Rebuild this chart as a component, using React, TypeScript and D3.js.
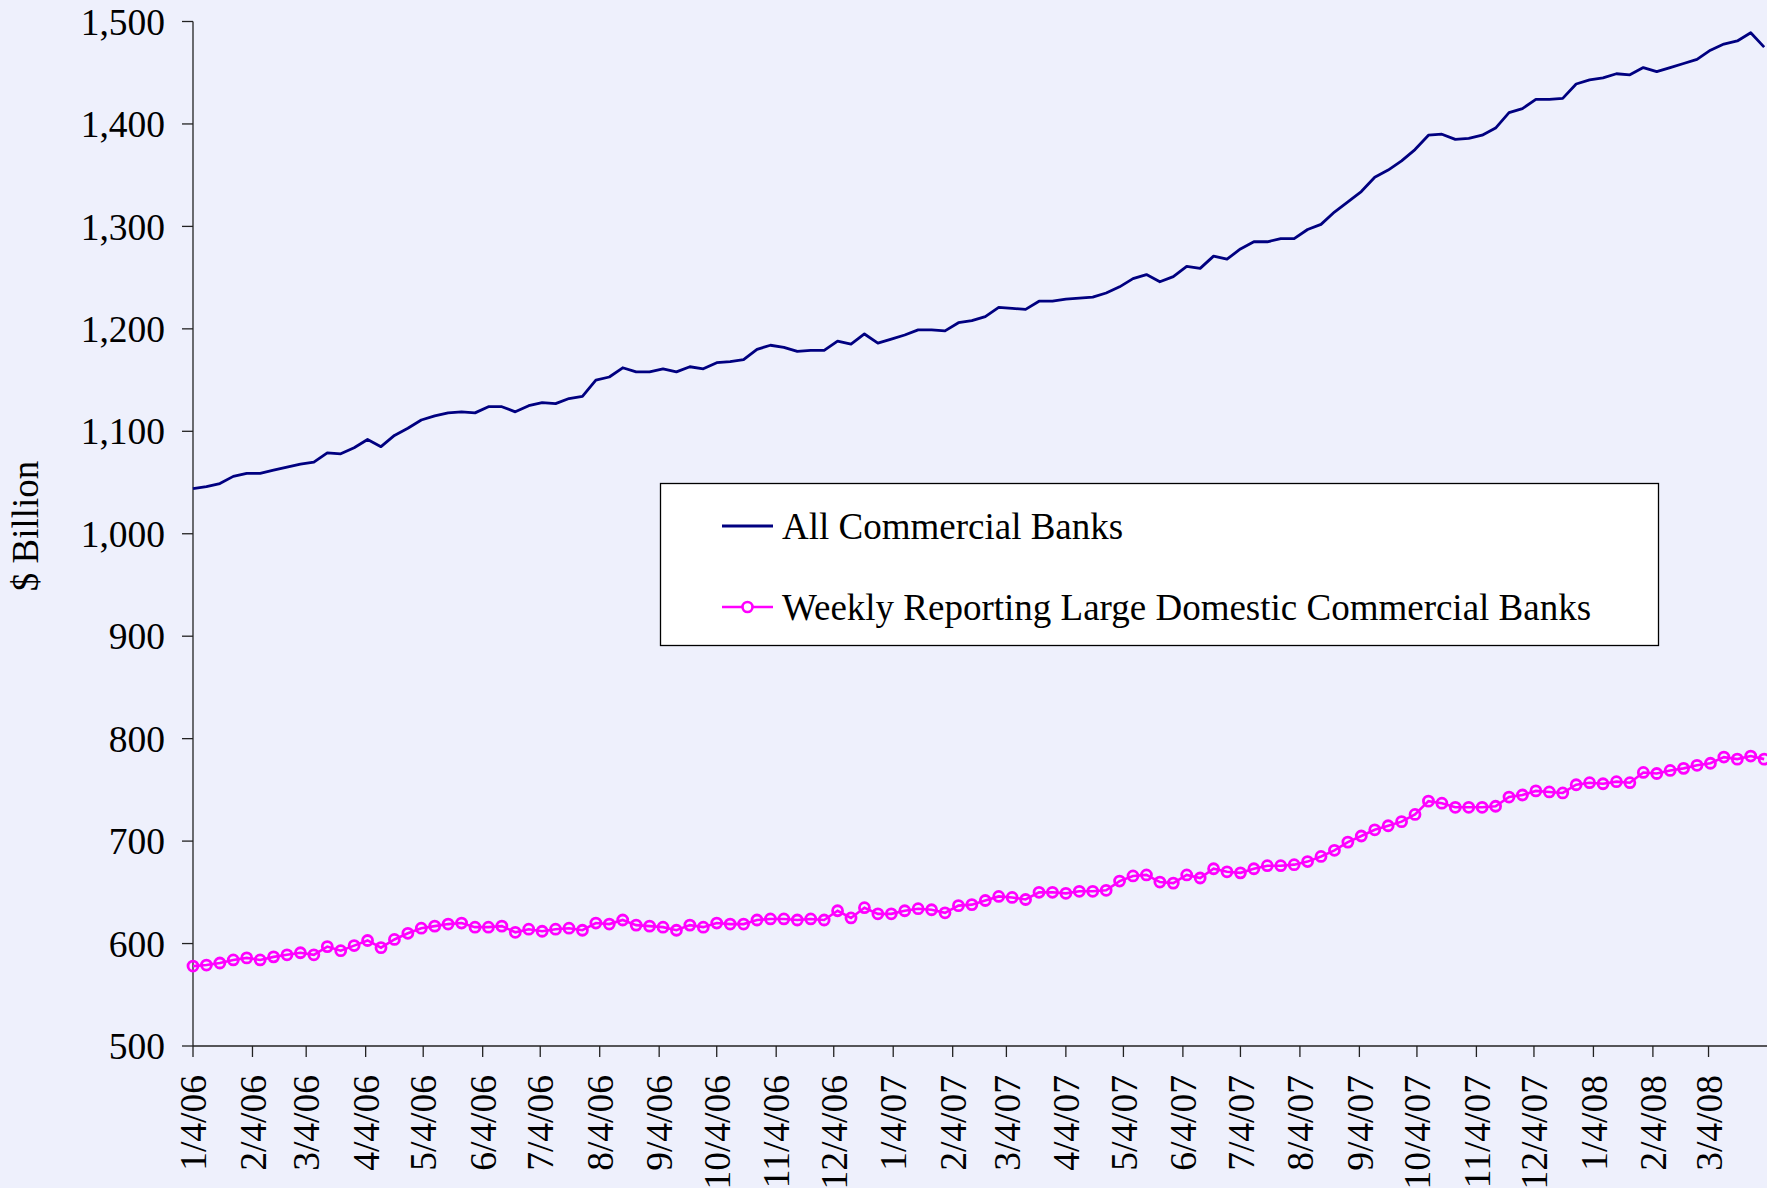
import React from "react";
import * as d3 from "d3";

const WIDTH = 1767;
const HEIGHT = 1188;

// weekly observations, starting Wed 1/4/06
const FIRST_WEEK = "1/4/06";
const LAST_DAY = "4/4/08";

const ALL_BANKS = [
  1044, 1046, 1049, 1056, 1059, 1059, 1062, 1065, 1068, 1070, 1079, 1078, 1084, 1092, 1085,
  1096, 1103, 1111, 1115, 1118, 1119, 1118, 1124, 1124, 1119, 1125, 1128, 1127, 1132, 1134,
  1150, 1153, 1162, 1158, 1158, 1161, 1158, 1163, 1161, 1167, 1168, 1170, 1180, 1184, 1182,
  1178, 1179, 1179, 1188, 1185, 1195, 1186, 1190, 1194, 1199, 1199, 1198, 1206, 1208, 1212,
  1221, 1220, 1219, 1227, 1227, 1229, 1230, 1231, 1235, 1241, 1249, 1253, 1246, 1251, 1261,
  1259, 1271, 1268, 1278, 1285, 1285, 1288, 1288, 1297, 1302, 1314, 1324, 1334, 1348, 1355,
  1364, 1375, 1389, 1390, 1385, 1386, 1389, 1396, 1411, 1415, 1424, 1424, 1425, 1439, 1443,
  1445, 1449, 1448, 1455, 1451, 1455, 1459, 1463, 1472, 1478, 1481, 1489, 1475,
];

const WEEKLY_LARGE = [
  578, 579, 581, 584, 586, 584, 587, 589, 591, 589, 597, 593, 598, 603, 596,
  604, 610, 615, 617, 619, 620, 616, 616, 617, 611, 614, 612, 614, 615, 613,
  620, 619, 623, 618, 617, 616, 613, 618, 616, 620, 619, 619, 623, 624, 624,
  623, 624, 623, 632, 625, 635, 629, 629, 632, 634, 633, 630, 637, 638, 642,
  646, 645, 643, 650, 650, 649, 651, 651, 652, 661, 666, 667, 660, 659, 667,
  664, 673, 670, 669, 673, 676, 676, 677, 680, 685, 691, 699, 705, 711, 715,
  719, 726, 739, 737, 733, 733, 733, 734, 743, 745, 749, 748, 747, 755, 757,
  756, 758, 757, 767, 766, 769, 771, 774, 776, 782, 780, 783, 780,
];

const TICK_LABELS = [
  "1/4/06", "2/4/06", "3/4/06", "4/4/06", "5/4/06", "6/4/06", "7/4/06", "8/4/06", "9/4/06",
  "10/4/06", "11/4/06", "12/4/06", "1/4/07", "2/4/07", "3/4/07", "4/4/07", "5/4/07", "6/4/07",
  "7/4/07", "8/4/07", "9/4/07", "10/4/07", "11/4/07", "12/4/07", "1/4/08", "2/4/08", "3/4/08",
];

const Y_TICKS = [500, 600, 700, 800, 900, 1000, 1100, 1200, 1300, 1400, 1500];

const SERIES_NAMES = ["All Commercial Banks", "Weekly Reporting Large Domestic Commercial Banks"];
const NAVY = "#000080";
const MAGENTA = "#FF00FF";
const BG = "#EEF0FC";
const FONT = "'Liberation Serif', 'Times New Roman', serif";

const parse = d3.timeParse("%m/%d/%y");

export default function App() {
  const start = parse(FIRST_WEEK)!;
  const dates = ALL_BANKS.map((_, i) => d3.timeDay.offset(start, 7 * i));

  const x = d3.scaleTime().domain([start, parse(LAST_DAY)!]).range([193, 1768]);
  const y = d3.scaleLinear().domain([500, 1500]).range([1046, 21.5]);

  const line = d3
    .line<number>()
    .x((_, i) => x(dates[i]))
    .y((d) => y(d));

  const y0 = y(500);
  const x0 = x(start);

  return (
    <svg
      width={WIDTH}
      height={HEIGHT}
      style={{ position: "absolute", left: 0, top: 0, fontFamily: FONT }}
    >
      <rect width={WIDTH} height={HEIGHT} fill={BG} />

      {/* y axis */}
      <line x1={x0} x2={x0} y1={y(1500)} y2={y0} stroke="#222" strokeWidth={1.3} />
      {Y_TICKS.map((t) => (
        <g key={t}>
          <line x1={x0 - 11} x2={x0} y1={y(t)} y2={y(t)} stroke="#222" strokeWidth={1.3} />
          <text x={x0 - 28} y={y(t)} dy="0.35em" textAnchor="end" fontSize={37.5} fill="#000">
            {d3.format(",")(t)}
          </text>
        </g>
      ))}
      <text
        transform={`translate(38, 526) rotate(-90)`}
        textAnchor="middle"
        fontSize={37}
        fill="#000"
      >
        $ Billion
      </text>

      {/* x axis */}
      <line x1={x0} x2={WIDTH} y1={y0} y2={y0} stroke="#222" strokeWidth={1.3} />
      {TICK_LABELS.map((lbl) => {
        const tx = x(parse(lbl)!);
        return (
          <g key={lbl}>
            <line x1={tx} x2={tx} y1={y0} y2={y0 + 11} stroke="#222" strokeWidth={1.3} />
            <text
              transform={`translate(${tx}, ${y0 + 29}) rotate(-90)`}
              dy="0.35em"
              textAnchor="end"
              fontSize={37.5}
              fill="#000"
            >
              {lbl}
            </text>
          </g>
        );
      })}

      {/* series */}
      <path d={line(ALL_BANKS)!} fill="none" stroke={NAVY} strokeWidth={2.8} strokeLinejoin="round" />
      <path d={line(WEEKLY_LARGE)!} fill="none" stroke={MAGENTA} strokeWidth={2.6} />
      {WEEKLY_LARGE.map((v, i) => (
        <circle
          key={i}
          cx={x(dates[i])}
          cy={y(v)}
          r={5}
          fill="none"
          stroke={MAGENTA}
          strokeWidth={2.8}
        />
      ))}

      {/* legend */}
      <g>
        <rect x={660.5} y={483.5} width={998} height={162} fill="#fff" stroke="#000" strokeWidth={1.3} />
        <line x1={722} x2={773} y1={526} y2={526} stroke={NAVY} strokeWidth={2.8} />
        <text x={782} y={526} dy="0.35em" fontSize={37} fill="#000">
          {SERIES_NAMES[0]}
        </text>
        <line x1={722} x2={773} y1={607} y2={607} stroke={MAGENTA} strokeWidth={2.6} />
        <circle cx={747.5} cy={607} r={5} fill="#fff" stroke={MAGENTA} strokeWidth={2.6} />
        <text x={782} y={607} dy="0.35em" fontSize={37} fill="#000">
          {SERIES_NAMES[1]}
        </text>
      </g>
    </svg>
  );
}
